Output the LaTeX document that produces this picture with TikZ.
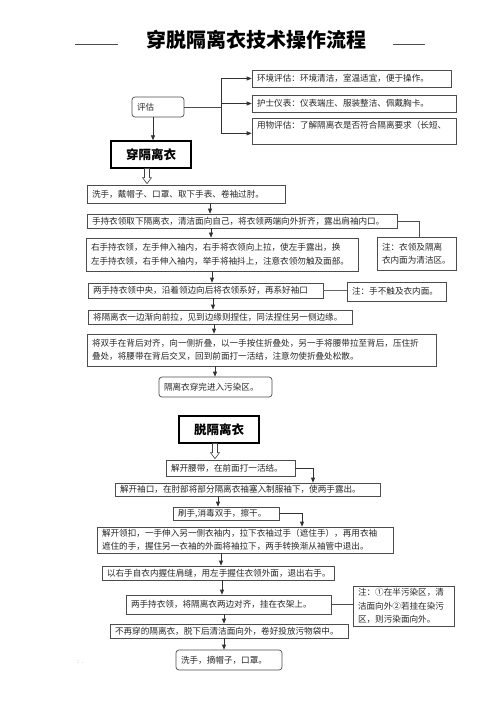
\documentclass[tikz,border=0pt]{standalone}
\usepackage{fontspec}
\setmainfont{Noto Sans CJK SC}
\usepackage{tikz}
\usetikzlibrary{positioning, arrows.meta, calc}

\begin{document}
\begin{tikzpicture}[x=1pt, y=-1pt,
    stepbox/.style={rectangle, draw=black!70, line width=0.7pt, inner xsep=5pt, inner ysep=0pt, align=left, text=black!85, font=\fontsize{8.6}{13.5}\selectfont},
    roundbox/.style={stepbox, rounded corners=3pt},
    headbox/.style={rectangle, draw=black, line width=1.3pt, font=\fontsize{12.5}{14}\selectfont\bfseries, minimum width=80pt, minimum height=27pt},
    flowarrow/.style={draw=black!80, line width=0.7pt, -{Triangle[length=5pt, width=4pt]}},
    joinline/.style={draw=black!70, line width=0.7pt},
    hollowarrow/.style={draw=black!75, line width=0.6pt, fill=white},
]
\useasboundingbox (0,0) rectangle (500,708);

% title
\node[font=\fontsize{20}{22}\selectfont\bfseries](title) at (256,40){穿脱隔离衣技术操作流程};
\draw[joinline] (75,44) -- (118,44);
\draw[joinline] (393,44) -- (425,44);

% assessment
\node[roundbox, text width=42pt, minimum height=20pt](pg) at (158,107){评估};
\node[stepbox, text width=189pt, minimum height=17pt](e1) at (351.5,78.5){环境评估：环境清洁，室温适宜，便于操作。};
\node[stepbox, text width=194pt, minimum height=17pt](e2) at (354,103.5){护士仪表：仪表端庄、服装整洁、佩戴胸卡。};
\node[stepbox, text width=194pt, minimum height=26pt, anchor=north](e3) at (354,118){用物评估：了解隔离衣是否符合隔离要求（长短、\\ \mbox{}};
\coordinate (fork) at (221,107);
\draw[joinline] (pg.east) -- (fork);
\draw[flowarrow] (fork) |- (e1.west);
\draw[flowarrow] (fork) -- (fork |- e2.west) -- (e2.west);
\draw[flowarrow] (fork) |- ([yshift=-2pt]e3.west);

% put on
\node[headbox](c1) at (151,154.5){穿隔离衣};
\draw[flowarrow] (pg.south -| 153,0) -- (c1.north -| 153,0);

\node[stepbox, text width=188pt, minimum height=18pt](s1) at (186,194){洗手，戴帽子、口罩、取下手表、卷袖过肘。};
\node[stepbox, text width=300pt, minimum height=14pt](s2) at (242,221){手持衣领取下隔离衣，清洁面向自己，将衣领两端向外折齐，露出肩袖内口。};
\node[stepbox, text width=69pt, minimum height=33pt](n1) at (416.5,253.5){注：衣领及隔离\\衣内面为清洁区。};
\node[stepbox, text width=262pt, minimum height=33pt](s3) at (222,254.5){右手持衣领，左手伸入袖内，右手将衣领向上拉，使左手露出，换\\左手持衣领，右手伸入袖内，举手将袖抖上，注意衣领勿触及面部。};
\node[stepbox, text width=225pt, minimum height=15pt](s4) at (205.5,290.5){两手持衣领中央，沿着领边向后将衣领系好，再系好袖口};
\node[stepbox, text width=89pt, minimum height=19pt](n2) at (396.5,291.5){注：手不触及衣内面。};
\node[stepbox, text width=254pt, minimum height=14pt](s5) at (220,317){将隔离衣一边渐向前拉，见到边缘则捏住，同法捏住另一侧边缘。};
\node[stepbox, text width=339pt, minimum height=32pt](s6) at (261.5,350){将双手在背后对齐，向一侧折叠，以一手按住折叠处，另一手将腰带拉至背后，压住折\\叠处，将腰带在背后交叉，回到前面打一活结，注意勿使折叠处松散。};
\node[roundbox, text width=103pt, minimum height=20pt](s7) at (215.5,387){隔离衣穿完进入污染区。};

\draw[hollowarrow] ([xshift=-6.5pt]c1.south) -- ++(0,9) -- ++(-2,0) -- ++(4.5,6) -- ++(4.5,-6) -- ++(-2,0) -- ++(0,-9) -- cycle;
\draw[flowarrow] (s1.south -| 210,0) -- (s2.north -| 210,0);
\draw[flowarrow] (s2.south -| 211,0) -- (s3.north -| 211,0);
\draw[flowarrow] (s3.south -| 212,0) -- (s4.north -| 212,0);
\draw[flowarrow] (s4.south -| 213,0) -- (s5.north -| 213,0);
\draw[flowarrow] (s5.south -| 214,0) -- (s6.north -| 214,0);
\draw[flowarrow] (s6.south -| 215,0) -- (s7.north -| 215,0);
\draw[joinline] (s2.east) -| (419,0 |- n1.north);
\draw[joinline, line width=1.2pt, draw=black!60] (s4.east) -- (n2.west |- s4.east);

% take off
\node[headbox](c2) at (219,429.5){脱隔离衣};
\node[stepbox, text width=119pt, minimum height=16pt](t1) at (230.5,468){解开腰带，在前面打一活结。};
\node[stepbox, text width=255pt, minimum height=13pt](t2) at (247.5,489.5){解开袖口，在肘部将部分隔离衣袖塞入制服袖下，使两手露出。};
\node[stepbox, text width=96pt, minimum height=13pt](t3) at (226,513.5){刷手,消毒双手，擦干。};
\node[stepbox, text width=286pt, minimum height=26pt](t4) at (245,540){解开领扣，一手伸入另一侧衣袖内，拉下衣袖过手（遮住手），再用衣袖\\遮住的手，握住另一衣袖的外面将袖拉下，两手转换渐从袖管中退出。};
\node[stepbox, text width=222pt, minimum height=14pt](t5) at (218,573){以右手自衣内握住肩缝，用左手握住衣领外面，退出右手。};
\node[stepbox, text width=195pt, minimum height=19pt](t6) at (228.5,604.5){两手持衣领，将隔离衣两边对齐，挂在衣架上。};
\node[stepbox, text width=91pt, minimum height=40pt](n3) at (403.5,606){注：①在半污染区，清\\洁面向外②若挂在染污\\区，则污染面向外。};
\node[stepbox, text width=228pt, minimum height=14pt](t7) at (229,631){不再穿的隔离衣，脱下后清洁面向外，卷好投放污物袋中。};
\node[roundbox, text width=96pt, minimum height=20pt](t8) at (229,660){洗手，摘帽子，口罩。};
\node[font=\fontsize{5}{6}\selectfont, text=black!60](dots) at (80,662){：.};

\draw[hollowarrow] ([xshift=-6.5pt]c2.south) -- ++(0,9) -- ++(-2,0) -- ++(4.5,6) -- ++(4.5,-6) -- ++(-2,0) -- ++(0,-9) -- cycle;
\draw[flowarrow] (t1.east) -| (313,0 |- t2.north);
\draw[flowarrow] (t2.south -| 218,0) -- (t3.north -| 218,0);
\draw[flowarrow] (t3.east) -| (302,0 |- t4.north);
\draw[flowarrow] (t4.south -| 221,0) -- (t5.north -| 221,0);
\draw[flowarrow] (t5.south -| 222,0) -- (t6.north -| 222,0);
\draw[joinline] (t6.east) -- (n3.west |- t6.east);
\draw[flowarrow] (t6.south -| 224,0) -- (t7.north -| 224,0);
\draw[flowarrow] (t7.south -| 224,0) -- (t8.north -| 224,0);
\end{tikzpicture}
\end{document}
